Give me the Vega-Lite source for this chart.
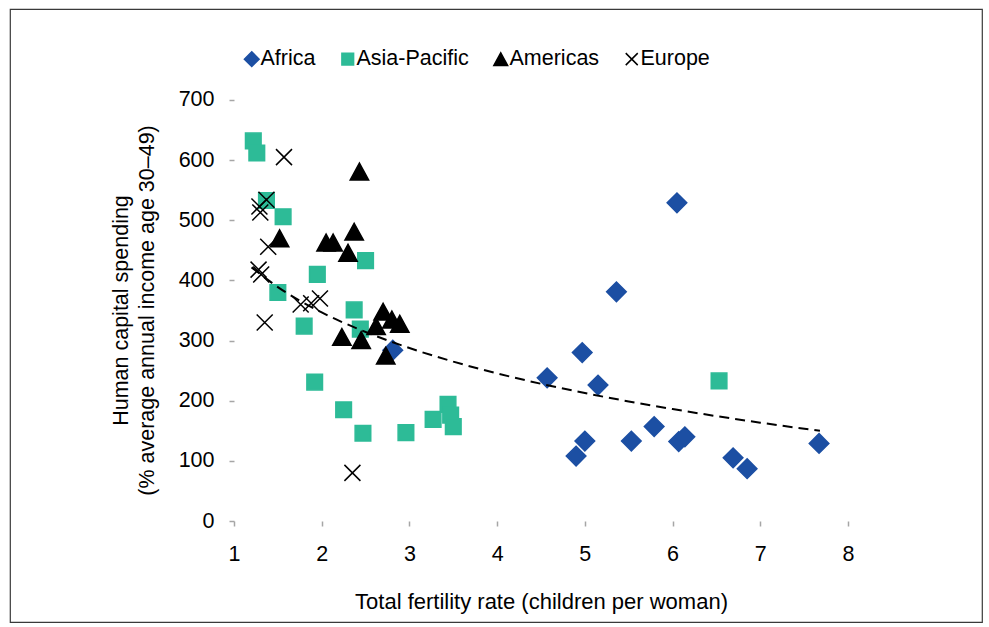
{
  "$schema": "https://vega.github.io/schema/vega-lite/v6.json",
  "autosize": {"type": "none"},
  "padding": {"left": 10, "top": 9, "right": 7, "bottom": 5},
  "width": 972,
  "height": 613,
  "background": "white",
  "config": {
    "view": {"stroke": "#3a3a3a", "strokeWidth": 1.2},
    "font": "Liberation Sans"
  },
  "datasets": {
    "points": [
      {"region": "Africa", "fertility": 6.05, "spending": 529},
      {"region": "Africa", "fertility": 5.36, "spending": 381},
      {"region": "Africa", "fertility": 4.97, "spending": 280},
      {"region": "Africa", "fertility": 4.57, "spending": 238},
      {"region": "Africa", "fertility": 5.15, "spending": 226},
      {"region": "Africa", "fertility": 5.79, "spending": 157},
      {"region": "Africa", "fertility": 5.0, "spending": 133},
      {"region": "Africa", "fertility": 4.9, "spending": 108},
      {"region": "Africa", "fertility": 5.53, "spending": 133},
      {"region": "Africa", "fertility": 6.07, "spending": 132},
      {"region": "Africa", "fertility": 6.14, "spending": 140},
      {"region": "Africa", "fertility": 6.69, "spending": 105},
      {"region": "Africa", "fertility": 6.85, "spending": 87},
      {"region": "Africa", "fertility": 7.67, "spending": 129},
      {"region": "Africa", "fertility": 2.81, "spending": 284},
      {"region": "Asia-Pacific", "fertility": 1.22, "spending": 632},
      {"region": "Asia-Pacific", "fertility": 1.26, "spending": 612},
      {"region": "Asia-Pacific", "fertility": 1.37, "spending": 533},
      {"region": "Asia-Pacific", "fertility": 1.56, "spending": 506},
      {"region": "Asia-Pacific", "fertility": 1.95, "spending": 410},
      {"region": "Asia-Pacific", "fertility": 1.5, "spending": 380},
      {"region": "Asia-Pacific", "fertility": 1.8, "spending": 324},
      {"region": "Asia-Pacific", "fertility": 2.5, "spending": 433},
      {"region": "Asia-Pacific", "fertility": 2.37, "spending": 351},
      {"region": "Asia-Pacific", "fertility": 2.44, "spending": 319},
      {"region": "Asia-Pacific", "fertility": 1.92, "spending": 231},
      {"region": "Asia-Pacific", "fertility": 2.25, "spending": 185},
      {"region": "Asia-Pacific", "fertility": 2.47, "spending": 146},
      {"region": "Asia-Pacific", "fertility": 2.96, "spending": 147},
      {"region": "Asia-Pacific", "fertility": 3.27, "spending": 169},
      {"region": "Asia-Pacific", "fertility": 3.44, "spending": 194},
      {"region": "Asia-Pacific", "fertility": 3.47, "spending": 176},
      {"region": "Asia-Pacific", "fertility": 3.5, "spending": 157},
      {"region": "Asia-Pacific", "fertility": 6.53, "spending": 233},
      {"region": "Americas", "fertility": 2.43, "spending": 581},
      {"region": "Americas", "fertility": 1.52, "spending": 470},
      {"region": "Americas", "fertility": 2.05, "spending": 463},
      {"region": "Americas", "fertility": 2.13, "spending": 463},
      {"region": "Americas", "fertility": 2.37, "spending": 481},
      {"region": "Americas", "fertility": 2.3, "spending": 446},
      {"region": "Americas", "fertility": 2.7, "spending": 348},
      {"region": "Americas", "fertility": 2.8, "spending": 335},
      {"region": "Americas", "fertility": 2.89, "spending": 328},
      {"region": "Americas", "fertility": 2.62, "spending": 324},
      {"region": "Americas", "fertility": 2.23, "spending": 306},
      {"region": "Americas", "fertility": 2.45, "spending": 301},
      {"region": "Americas", "fertility": 2.73, "spending": 275},
      {"region": "Europe", "fertility": 1.57, "spending": 605},
      {"region": "Europe", "fertility": 1.37, "spending": 534},
      {"region": "Europe", "fertility": 1.29, "spending": 523},
      {"region": "Europe", "fertility": 1.3, "spending": 513},
      {"region": "Europe", "fertility": 1.39, "spending": 456},
      {"region": "Europe", "fertility": 1.28, "spending": 418},
      {"region": "Europe", "fertility": 1.31, "spending": 410},
      {"region": "Europe", "fertility": 1.76, "spending": 360},
      {"region": "Europe", "fertility": 1.88, "spending": 362},
      {"region": "Europe", "fertility": 1.98, "spending": 370},
      {"region": "Europe", "fertility": 1.35, "spending": 330},
      {"region": "Europe", "fertility": 2.35, "spending": 80}
    ],
    "trend": [
      {"fertility": 1.2, "spending": 421.7},
      {"fertility": 1.5, "spending": 389.0},
      {"fertility": 2.0, "spending": 346.9},
      {"fertility": 2.5, "spending": 314.3},
      {"fertility": 3.0, "spending": 287.6},
      {"fertility": 3.5, "spending": 265.0},
      {"fertility": 4.0, "spending": 245.4},
      {"fertility": 4.5, "spending": 228.2},
      {"fertility": 5.0, "spending": 212.8},
      {"fertility": 5.5, "spending": 198.8},
      {"fertility": 6.0, "spending": 186.1},
      {"fertility": 6.5, "spending": 174.4},
      {"fertility": 7.0, "spending": 163.5},
      {"fertility": 7.68, "spending": 150.0}
    ]
  },
  "layer": [
    {
      "data": {"name": "points"},
      "mark": {"type": "point", "filled": true, "size": 400, "strokeWidth": 1.5, "opacity": 1},
      "encoding": {
        "x": {
          "field": "fertility",
          "type": "quantitative",
          "scale": {"domain": [-1.5537, 9.5277], "nice": false, "zero": false},
          "axis": {
            "title": "Total fertility rate (children per woman)",
            "values": [1, 2, 3, 4, 5, 6, 7, 8],
            "format": "d",
            "domain": false,
            "grid": false,
            "offset": -101,
            "tickSize": 5,
            "tickColor": "#a6a6a6",
            "tickWidth": 1.5,
            "labelFontSize": 21.5,
            "labelColor": "black",
            "labelPadding": 17,
            "labelFlush": false,
            "titleFontSize": 22,
            "titleFontWeight": "normal",
            "titleColor": "black",
            "titleX": 531,
            "titleY": 87,
            "titleBaseline": "alphabetic"
          }
        },
        "y": {
          "field": "spending",
          "type": "quantitative",
          "scale": {"domain": [-167.9, 851.3], "nice": false, "zero": false},
          "axis": {
            "title": ["Human capital spending", "(% average annual income age 30–49)"],
            "values": [0, 100, 200, 300, 400, 500, 600, 700],
            "domain": false,
            "grid": false,
            "offset": -224,
            "tickSize": 5,
            "tickColor": "#a6a6a6",
            "tickWidth": 1.5,
            "labelFontSize": 21.5,
            "labelColor": "black",
            "labelPadding": 15,
            "labelFlush": false,
            "titleFontSize": 21.5,
            "titleFontWeight": "normal",
            "titleColor": "black",
            "titleX": -107,
            "titleY": 301,
            "titleAlign": "center",
            "titleBaseline": "alphabetic",
            "titleLineHeight": 26
          }
        },
        "fill": {
          "field": "region",
          "type": "nominal",
          "scale": {
            "domain": ["Africa", "Asia-Pacific", "Americas", "Europe"],
            "range": ["#1c4fa3", "#2dbb97", "#000000", "transparent"]
          },
          "legend": {"orient": "none", "legendX": 231, "legendY": 39, "direction": "horizontal", "title": null, "labelFontSize": 21.5, "labelColor": "black", "symbolSize": 225, "labelOffset": -2, "columnPadding": 21, "symbolStrokeWidth": 1.5, "padding": 0}
        },
        "stroke": {
          "field": "region",
          "type": "nominal",
          "scale": {
            "domain": ["Africa", "Asia-Pacific", "Americas", "Europe"],
            "range": ["#1c4fa3", "#2dbb97", "#000000", "#000000"]
          },
          "legend": {"orient": "none", "legendX": 231, "legendY": 39, "direction": "horizontal", "title": null, "labelFontSize": 21.5, "labelColor": "black", "symbolSize": 225, "labelOffset": -2, "columnPadding": 21, "symbolStrokeWidth": 1.5, "padding": 0}
        },
        "shape": {
          "field": "region",
          "type": "nominal",
          "scale": {
            "domain": ["Africa", "Asia-Pacific", "Americas", "Europe"],
            "range": [
              "M0,-0.98L0.98,0L0,0.98L-0.98,0Z",
              "M-0.78,-0.78L0.78,-0.78L0.78,0.78L-0.78,0.78Z",
              "M0,-0.84L0.92,0.84L-0.92,0.84Z",
              "M-0.8,-0.8L0.8,0.8M0.8,-0.8L-0.8,0.8"
            ]
          },
          "legend": {"orient": "none", "legendX": 231, "legendY": 39, "direction": "horizontal", "title": null, "labelFontSize": 21.5, "labelColor": "black", "symbolSize": 225, "labelOffset": -2, "columnPadding": 21, "symbolStrokeWidth": 1.5, "padding": 0}
        }
      }
    },
    {
      "mark": {"type": "rule", "color": "#a6a6a6", "strokeWidth": 1.5},
      "encoding": {
        "x": {"datum": 1, "type": "quantitative"},
        "y": {"datum": 0, "type": "quantitative"},
        "y2": {"datum": 700}
      }
    },
    {
      "mark": {"type": "rule", "color": "#a6a6a6", "strokeWidth": 1.5},
      "encoding": {
        "x": {"datum": 1, "type": "quantitative"},
        "x2": {"datum": 8},
        "y": {"datum": 0, "type": "quantitative"}
      }
    },
    {
      "data": {"name": "trend"},
      "mark": {"type": "line", "color": "black", "strokeWidth": 2, "strokeDash": [10, 6], "interpolate": "monotone"},
      "encoding": {
        "x": {"field": "fertility", "type": "quantitative"},
        "y": {"field": "spending", "type": "quantitative"}
      }
    }
  ]
}
